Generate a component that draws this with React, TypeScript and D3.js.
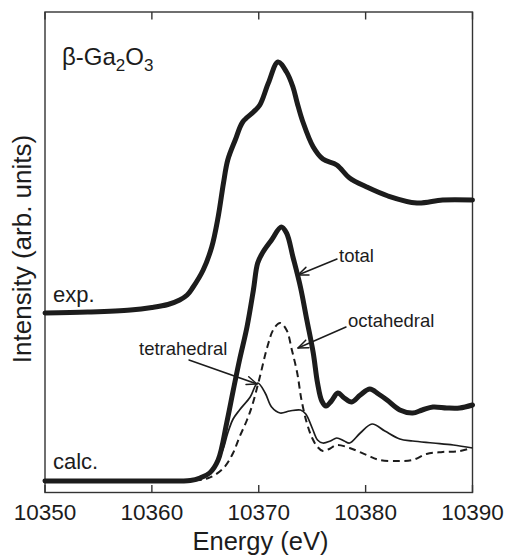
import React from "react";
import * as d3 from "d3";

const W = 507;
const H = 557;

const xTicks = [10350, 10360, 10370, 10380, 10390];

const expE = [10350, 10354, 10358, 10360, 10361.5, 10362.6, 10363.3, 10363.8, 10364.8, 10365.6, 10366.2, 10366.7, 10367.1, 10367.8, 10368.5, 10369.5, 10370.1, 10370.9, 10371.8, 10372.6, 10373.2, 10373.6, 10374.1, 10375.1, 10376.0, 10377.3, 10378.5, 10380.1, 10382.1, 10384.8, 10387.2, 10390];
const expI = [1.68, 1.69, 1.71, 1.735, 1.765, 1.81, 1.86, 1.93, 2.11, 2.34, 2.64, 2.98, 3.21, 3.41, 3.59, 3.69, 3.76, 3.98, 4.19, 4.09, 3.94, 3.78, 3.6, 3.34, 3.22, 3.16, 3.03, 2.94, 2.85, 2.78, 2.81, 2.81];

const totalE = [10350, 10360, 10363.6, 10364.5, 10365.4, 10366.2, 10367.0, 10367.6, 10368.2, 10368.9, 10369.5, 10369.9, 10370.4, 10371.2, 10372.1, 10372.6, 10373.2, 10373.9, 10374.5, 10375.1, 10375.5, 10375.9, 10376.3, 10376.8, 10377.4, 10378.0, 10378.7, 10379.5, 10380.4, 10381.2, 10382.0, 10383.2, 10384.4, 10385.3, 10386.3, 10387.6, 10388.8, 10390];
const totalI = [0, 0, 0.005, 0.03, 0.08, 0.21, 0.58, 0.9, 1.21, 1.54, 1.91, 2.18, 2.29, 2.41, 2.54, 2.48, 2.24, 1.94, 1.61, 1.28, 0.98, 0.8, 0.75, 0.8, 0.88, 0.83, 0.79, 0.86, 0.92, 0.87, 0.81, 0.71, 0.68, 0.71, 0.74, 0.73, 0.73, 0.76];

const tetraE = [10350, 10360, 10363.6, 10365.0, 10365.6, 10366.2, 10366.7, 10367.1, 10367.6, 10368.2, 10369.2, 10369.9, 10370.6, 10371.2, 10372.0, 10372.9, 10373.9, 10374.4, 10375.0, 10375.5, 10376.0, 10376.7, 10377.3, 10378.0, 10378.5, 10379.5, 10380.6, 10381.8, 10383.2, 10384.4, 10386.3, 10388.2, 10390];
const tetraI = [0, 0, 0.005, 0.04, 0.11, 0.21, 0.33, 0.48, 0.62, 0.71, 0.84, 0.98, 0.88, 0.74, 0.68, 0.7, 0.71, 0.67, 0.53, 0.41, 0.38, 0.4, 0.43, 0.4, 0.38, 0.48, 0.57, 0.5, 0.42, 0.4, 0.38, 0.36, 0.33];

const octaE = [10350, 10360, 10364.5, 10365.3, 10365.9, 10366.8, 10367.6, 10368.2, 10368.9, 10369.4, 10370.1, 10370.8, 10371.4, 10372.0, 10372.6, 10373.1, 10373.6, 10374.0, 10374.5, 10375.0, 10375.5, 10376.0, 10376.6, 10377.3, 10378.5, 10380.1, 10381.3, 10383.2, 10384.4, 10385.7, 10387.2, 10388.8, 10389.9];
const octaI = [0, 0, 0.01, 0.03, 0.06, 0.14, 0.28, 0.44, 0.61, 0.76, 1.04, 1.34, 1.52, 1.58, 1.51, 1.31, 1.08, 0.81, 0.58, 0.43, 0.34, 0.3, 0.32, 0.36, 0.33, 0.26, 0.21, 0.2, 0.21, 0.27, 0.29, 0.3, 0.33];

const FONT = "'Liberation Sans', Arial, Helvetica, sans-serif";
const INK = "#1c1c1c";

function Arrow({ x1, y1, x2, y2 }: { x1: number; y1: number; x2: number; y2: number }) {
  const ang = Math.atan2(y2 - y1, x2 - x1);
  const L = 11;
  const a = 0.38;
  const p1 = [x2 - L * Math.cos(ang - a), y2 - L * Math.sin(ang - a)];
  const p2 = [x2 - L * Math.cos(ang + a), y2 - L * Math.sin(ang + a)];
  return (
    <g stroke={INK} strokeWidth={1.5} fill="none" strokeLinecap="round" strokeLinejoin="round">
      <line x1={x1} y1={y1} x2={x2} y2={y2} />
      <polyline points={`${p1[0]},${p1[1]} ${x2},${y2} ${p2[0]},${p2[1]}`} />
    </g>
  );
}

export default function App() {
  const left = 45, right = 472.5, top = 12, bottom = 492.5;
  const x = d3.scaleLinear().domain([10350, 10390]).range([left, right]);
  const y = d3.scaleLinear().domain([-0.115, 4.69]).range([bottom, top]);

  const mk = (E: number[], I: number[]) =>
    d3
      .line<number>()
      .x((_, i) => x(E[i]))
      .y((d) => y(d))
      .curve(d3.curveCatmullRom.alpha(0.5))(I) || "";

  return (
    <svg width={W} height={H} style={{ position: "absolute", left: 0, top: 0, background: "#fff" }}>
      <rect x={left} y={top} width={right - left} height={bottom - top} fill="none" stroke="#333" strokeWidth={1.4} />
      {xTicks.map((t) => (
        <g key={t}>
          <line x1={x(t)} x2={x(t)} y1={top} y2={top + 7.5} stroke="#333" strokeWidth={1.4} />
          <line x1={x(t)} x2={x(t)} y1={bottom} y2={bottom - 7.5} stroke="#333" strokeWidth={1.4} />
          <text x={x(t)} y={520} textAnchor="middle" fontFamily={FONT} fontSize={22.5} fill={INK}>
            {t}
          </text>
        </g>
      ))}
      <text x={260.5} y={550} textAnchor="middle" fontFamily={FONT} fontSize={25.5} fill={INK}>
        Energy (eV)
      </text>
      <text transform="translate(31,249) rotate(-90)" textAnchor="middle" fontFamily={FONT} fontSize={26} fill={INK}>
        Intensity (arb. units)
      </text>

      <path d={mk(octaE, octaI)} fill="none" stroke={INK} strokeWidth={2} strokeDasharray="7 4.5" />
      <path d={mk(tetraE, tetraI)} fill="none" stroke={INK} strokeWidth={1.7} />
      <path d={mk(expE, expI)} fill="none" stroke={INK} strokeWidth={5} strokeLinejoin="round" strokeLinecap="round" />
      <path d={mk(totalE, totalI)} fill="none" stroke={INK} strokeWidth={5} strokeLinejoin="round" strokeLinecap="round" />

      <text x={62} y={65} fontFamily={FONT} fontSize={24} fill={INK}>
        β-Ga<tspan fontSize={17} dy={6}>2</tspan>
        <tspan dy={-6}>O</tspan>
        <tspan fontSize={17} dy={6}>3</tspan>
      </text>
      <text x={53} y={302} fontFamily={FONT} fontSize={22} fill={INK}>exp.</text>
      <text x={53} y={469} fontFamily={FONT} fontSize={22} fill={INK}>calc.</text>
      <text x={339} y={262} fontFamily={FONT} fontSize={18.5} fill={INK}>total</text>
      <text x={348} y={327} fontFamily={FONT} fontSize={18.5} fill={INK}>octahedral</text>
      <text x={139} y={355} fontFamily={FONT} fontSize={18.5} fill={INK}>tetrahedral</text>

      <Arrow x1={337} y1={259} x2={298} y2={275} />
      <Arrow x1={346} y1={327} x2={298} y2={348} />
      <Arrow x1={189} y1={360} x2={257} y2={384} />
    </svg>
  );
}
